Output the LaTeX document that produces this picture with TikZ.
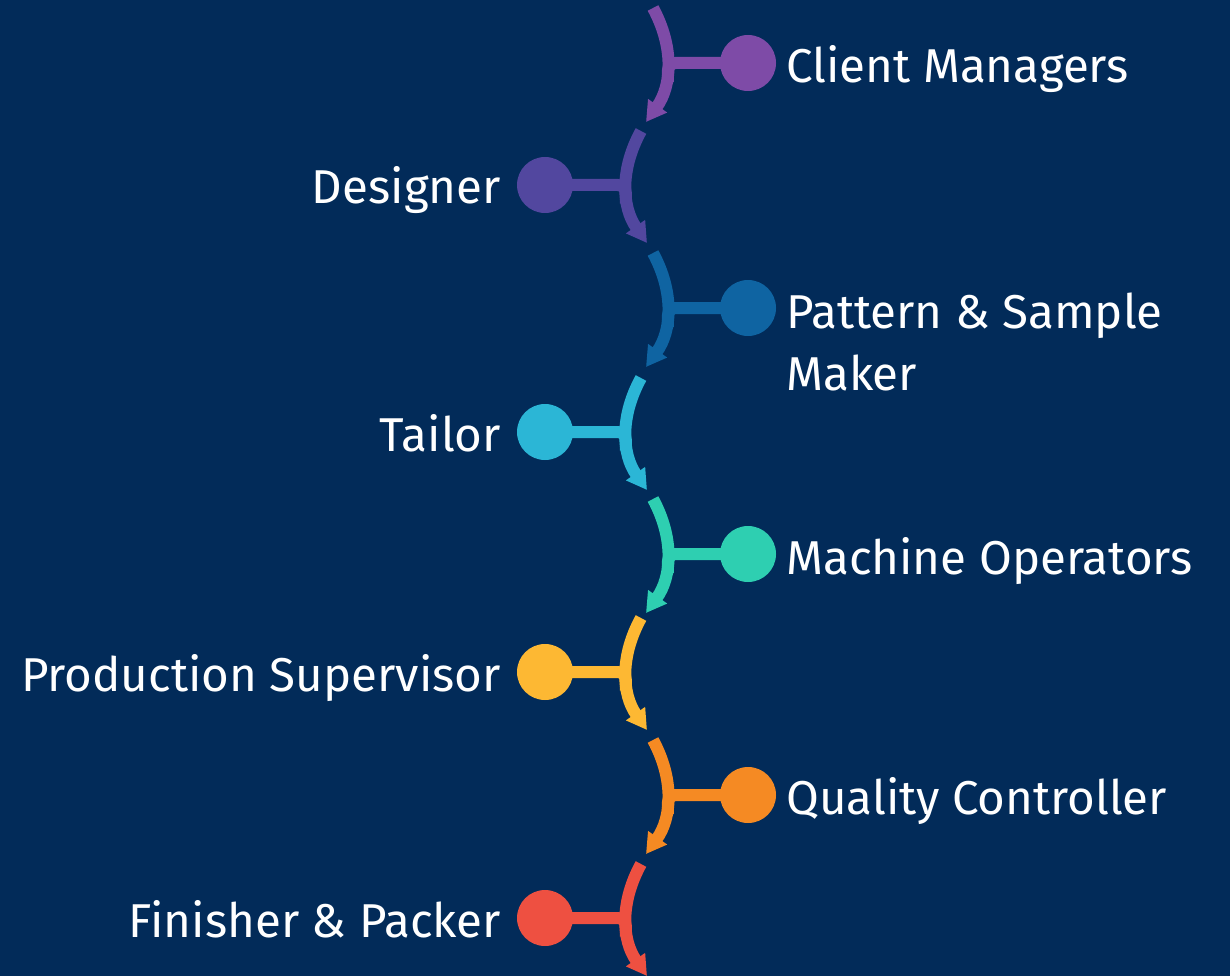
\documentclass[tikz,border=0pt]{standalone}
\usepackage{fontspec}
\setmainfont{Fira Sans}
\usepackage{tikz}
\usetikzlibrary{arrows.meta,positioning,calc}
\definecolor{bg}{HTML}{022B59}
\definecolor{cA}{HTML}{7E4BA7}
\definecolor{cB}{HTML}{52479F}
\definecolor{cC}{HTML}{0F64A2}
\definecolor{cD}{HTML}{2BB6D6}
\definecolor{cE}{HTML}{2ECFB1}
\definecolor{cF}{HTML}{FDB833}
\definecolor{cG}{HTML}{F58A23}
\definecolor{cH}{HTML}{EE5041}
\tikzset{
  dot/.style={circle,inner sep=0pt,minimum size=56pt},
  flow/.style={line width=12pt,-{Triangle[width=22pt,length=20pt]}},
  stem/.style={line width=12pt,rounded corners=8pt,shorten >=-2pt},
  lbl/.style={text=white,inner sep=0pt,align=left,font=\fontsize{47.5}{62}\selectfont},
}

\begin{document}
\begin{tikzpicture}[x=1pt,y=-1pt]
  \fill[bg] (0,0) rectangle (1230,976);
  \useasboundingbox (0,0) rectangle (1230,976);
  % right-hand steps
  \foreach \n/\yy/\ty/\col/\txt in {cm/63/83/cA/Client Managers,
      ps/308/390/cC/{Pattern \& Sample\\Maker},
      mo/554/574/cE/Machine Operators, qc/795/814/cG/Quality Controller}{
    \coordinate (\n-top) at (653,\yy-55);
    \coordinate (\n-end) at (646,\yy+59);
    \node[dot,fill=\col] (\n) at (748,\yy) {};
    \path (\n-top) to[bend left=32] coordinate[pos=.64] (\n-j) (\n-end);
    \draw[stem,\col] ($(\n-j)+(3,0)$) |- (\n);
    \draw[flow,\col] (\n-top) to[bend left=32] (\n-end);
    \node[lbl,anchor=base west] (\n-t) at (786,\ty) {\txt};
  }
  % left-hand steps
  \foreach \n/\yy/\col/\txt in {ds/185/cB/Designer, tl/432/cD/Tailor,
      pv/672/cF/Production Supervisor, fp/918/cH/Finisher \& Packer}{
    \coordinate (\n-top) at (641,\yy-54);
    \coordinate (\n-end) at (647,\yy+58);
    \node[dot,fill=\col] (\n) at (545,\yy) {};
    \path (\n-top) to[bend right=32] coordinate[pos=.64] (\n-j) (\n-end);
    \draw[stem,\col] ($(\n-j)+(-3,0)$) |- (\n);
    \draw[flow,\col] (\n-top) to[bend right=32] (\n-end);
    \node[lbl,anchor=base east] (\n-t) at (501,\yy+19) {\txt};
  }
\end{tikzpicture}
\end{document}
